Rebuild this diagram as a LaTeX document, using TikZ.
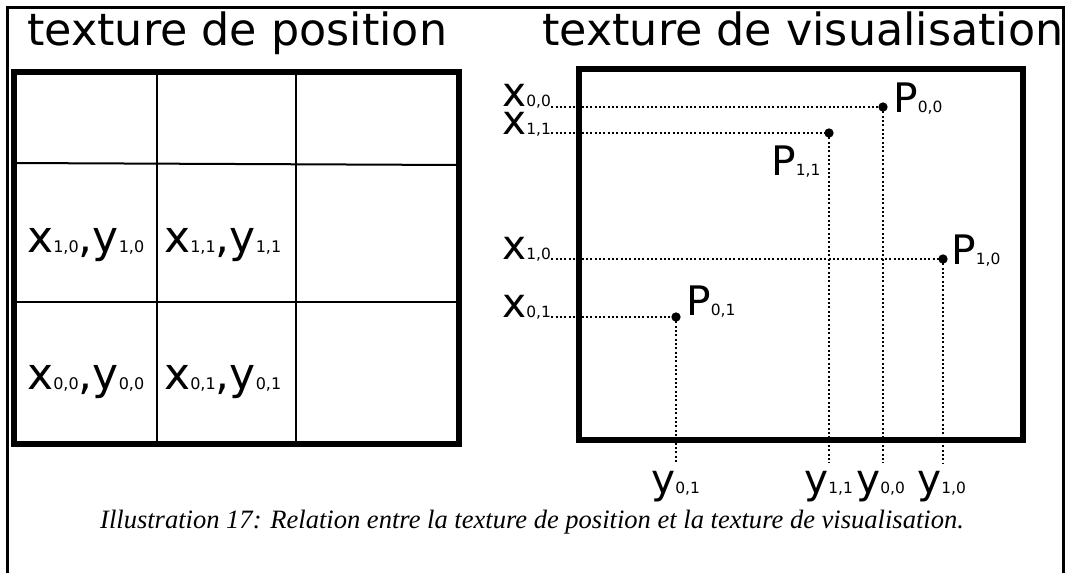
\documentclass[tikz,border=0pt]{standalone}
\usepackage{fontspec}
\setmainfont{DejaVu Sans}
\newfontfamily\capfont{Liberation Serif}
\newcommand{\mainsz}{\fontsize{30.5}{31}\selectfont}
\newcommand{\subsz}{\fontsize{11.6}{12}\selectfont}
\newcommand{\cellmain}{\fontsize{33}{33}\selectfont}
\newcommand{\cellsub}{\fontsize{12}{12}\selectfont}
\newcommand{\lab}[2]{{\mainsz #1}{\subsz #2}}
\newcommand{\cellab}[2]{{\cellmain x}{\cellsub #1}{\cellmain ,}{\cellmain y}{\cellsub #2}}
\tikzset{
  frameline/.style={line width=2.25pt},
  thickbox/.style={line width=4.5pt, line join=miter},
  gridline/.style={line width=1.5pt},
  dotline/.style={line width=1.8pt, dash pattern=on 1.6pt off 1.65pt},
  ptdot/.style={circle, fill=black, inner sep=0pt, minimum size=7pt},
  lab/.style={inner sep=0pt, anchor=base west},
}
\begin{document}
\begin{tikzpicture}[x=0.75pt, y=-0.75pt]
\useasboundingbox (0,0) rectangle (1067,572);
% outer frame
\draw[frameline] (7,575) -- (7,7) -- (1063,7) -- (1063,575);
% titles
\node[lab] (t1) at (27,45) {\fontsize{33.3}{33}\selectfont texture de position};
\node[lab] (t2) at (542,45) {\fontsize{33.3}{33}\selectfont texture de visualisation};
% left grid
\draw[gridline] (157,72) -- (157,444);
\draw[gridline] (296,72) -- (296,444);
\draw[gridline] (14,163) -- (459,165);
\draw[gridline] (14,302) -- (459,302);
\draw[thickbox] (14,72) rectangle (459,444);
\node[lab] (c10) at (27,252) {\cellab{1,0}{1,0}};
\node[lab] (c11) at (164,252) {\cellab{1,1}{1,1}};
\node[lab] (c00) at (27,389) {\cellab{0,0}{0,0}};
\node[lab] (c01) at (164,389) {\cellab{0,1}{0,1}};
% right box
\draw[thickbox] (579,69) rectangle (1023,440);
% points
\node[ptdot] (p00) at (883,107) {};
\node[ptdot] (p11) at (829,133) {};
\node[ptdot] (p10) at (943,259) {};
\node[ptdot] (p01) at (676,317) {};
% x labels
\node[lab] (lx00) at (502,106) {\lab{x}{0,0}};
\node[lab] (lx11) at (502,134) {\lab{x}{1,1}};
\node[lab] (lx10) at (502,259) {\lab{x}{1,0}};
\node[lab] (lx01) at (502,317) {\lab{x}{0,1}};
% P labels
\node[lab] (lp00) at (893,112) {\lab{P}{0,0}};
\node[lab] (lp11) at (771,175) {\lab{P}{1,1}};
\node[lab] (lp10) at (951,264) {\lab{P}{1,0}};
\node[lab] (lp01) at (686,315) {\lab{P}{0,1}};
% y labels
\node[lab] (ly01) at (651,493) {\lab{y}{0,1}};
\node[lab] (ly11) at (804,493) {\lab{y}{1,1}};
\node[lab] (ly00) at (856,493) {\lab{y}{0,0}};
\node[lab] (ly10) at (917,493) {\lab{y}{1,0}};
% free ends of vertical dotted lines
\coordinate (e01) at (676,463);
\coordinate (e11) at (829,463);
\coordinate (e00) at (883,463);
\coordinate (e10) at (943,463);
% dotted connectors
\draw[dotline] (lx00.base east |- p00) -- (p00.center);
\draw[dotline] (lx11.base east |- p11) -- (p11.center);
\draw[dotline] (lx10.base east) -- (p10.center);
\draw[dotline] (lx01.base east) -- (p01.center);
\draw[dotline] (p01.center) -- (e01);
\draw[dotline] (p11.center) -- (e11);
\draw[dotline] (p00.center) -- (e00);
\draw[dotline] (p10.center) -- (e10);
% caption
\node[inner sep=0pt, anchor=base] (cap) at (532,528) {\capfont\itshape\fontsize{19.9}{20}\selectfont Illustration 17: Relation entre la texture de position et la texture de visualisation.};
\end{tikzpicture}
\end{document}
